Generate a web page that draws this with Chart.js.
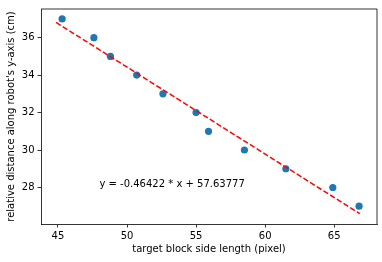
<!DOCTYPE html>
<html>
<head>
<meta charset="utf-8">
<script src="https://cdn.jsdelivr.net/npm/chart.js@4/dist/chart.umd.min.js"></script>
<style>
  html, body { margin: 0; padding: 0; background: #fff; }
  #wrap { width: 382px; height: 262px; }
</style>
</head>
<body>
<div id="wrap"><canvas id="fitChart" width="382" height="262"></canvas></div>
<script>
// measured block sizes (pixel) and distances (cm)
const blockSize = [45.3, 47.6, 48.8, 50.7, 52.6, 55.0, 55.9, 58.5, 61.5, 64.9, 66.8];
const distance  = [37, 36, 35, 34, 33, 32, 31, 30, 29, 28, 27];

// fitted line
const slope = -0.46422;
const intercept = 57.63777;
const fitX = [44.86, 66.86];
const fitLabel = 'y = -0.46422 * x + 57.63777';

const xTicks = [45, 50, 55, 60, 65];
const yTicks = [28, 30, 32, 34, 36];

const FONT = 'DejaVu Sans';

const points = blockSize.map((x, i) => ({ x: x, y: distance[i] }));
const fitLine = fitX.map(x => ({ x: x, y: slope * x + intercept }));

// top/right spines + equation text
const extras = {
  id: 'extras',
  afterDatasetsDraw(chart) {
    const ctx = chart.ctx;
    const a = chart.chartArea;
    ctx.save();
    ctx.strokeStyle = '#000';
    ctx.lineWidth = 0.8;
    ctx.beginPath();
    ctx.moveTo(a.left, a.top);
    ctx.lineTo(a.right, a.top);
    ctx.lineTo(a.right, a.bottom);
    ctx.stroke();

    ctx.fillStyle = '#000';
    ctx.font = '10px "' + FONT + '"';
    ctx.textAlign = 'left';
    ctx.textBaseline = 'alphabetic';
    ctx.fillText(fitLabel, chart.scales.x.getPixelForValue(48), chart.scales.y.getPixelForValue(28));
    ctx.restore();
  }
};

const ctx = document.getElementById('fitChart').getContext('2d');
new Chart(ctx, {
  type: 'scatter',
  data: {
    datasets: [
      {
        type: 'line',
        label: 'fit',
        data: fitLine,
        borderColor: '#ff0000',
        borderWidth: 1.5,
        borderDash: [5.5, 2.4],
        pointRadius: 0,
        fill: false
      },
      {
        label: 'measured',
        data: points,
        backgroundColor: '#1f77b4',
        borderColor: '#1f77b4',
        borderWidth: 0,
        pointRadius: 3.6,
        pointHoverRadius: 3.6
      }
    ]
  },
  options: {
    responsive: false,
    animation: false,
    events: [],
    layout: { padding: { left: 0, right: 5, top: 6, bottom: 0 } },
    plugins: { legend: { display: false }, tooltip: { enabled: false } },
    scales: {
      x: {
        type: 'linear',
        min: 43.77,
        max: 68.1,
        afterBuildTicks: s => { s.ticks = xTicks.map(v => ({ value: v })); },
        afterFit: s => { s.height = 38; },
        ticks: { color: '#000', font: { family: FONT, size: 10 }, padding: 3, maxRotation: 0 },
        grid: { drawOnChartArea: false, tickLength: 3.5, color: '#000', lineWidth: 0.8 },
        border: { display: true, color: '#000', width: 0.8 },
        title: {
          display: true,
          text: 'target block side length (pixel)',
          color: '#000',
          font: { family: FONT, size: 10 },
          padding: { top: 0, bottom: 7 }
        }
      },
      y: {
        type: 'linear',
        min: 26.05,
        max: 37.53,
        afterBuildTicks: s => { s.ticks = yTicks.map(v => ({ value: v })); },
        afterFit: s => { s.width = 41; },
        ticks: { color: '#000', font: { family: FONT, size: 10 }, padding: 3 },
        grid: { drawOnChartArea: false, tickLength: 3.5, color: '#000', lineWidth: 0.8 },
        border: { display: true, color: '#000', width: 0.8 },
        title: {
          display: true,
          text: "relative distance along robot's y-axis (cm)",
          color: '#000',
          font: { family: FONT, size: 10 },
          padding: { top: 5, bottom: 0 }
        }
      }
    }
  },
  plugins: [extras]
});
</script>
</body>
</html>
